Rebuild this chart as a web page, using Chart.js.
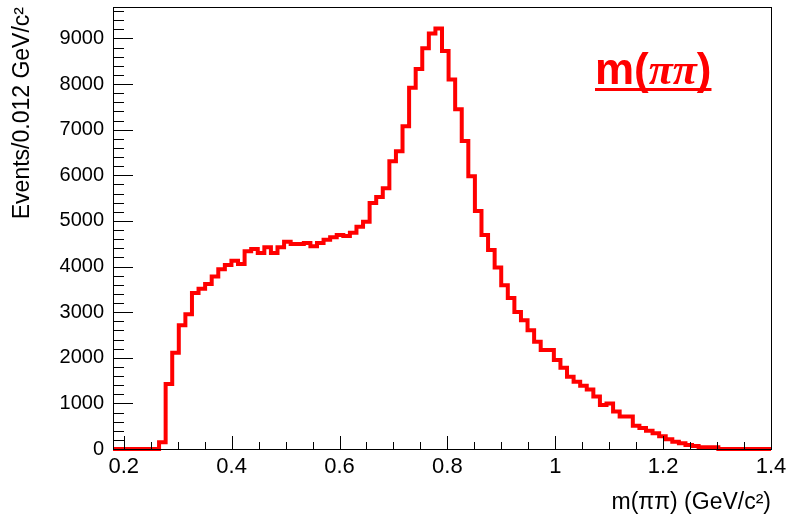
<!DOCTYPE html>
<html>
<head>
<meta charset="utf-8">
<script src="https://cdn.jsdelivr.net/npm/chart.js@4/dist/chart.umd.min.js"></script>
<style>
  html, body { margin: 0; padding: 0; background: #fff; }
  #wrap { width: 790px; height: 518px; position: relative; }
</style>
</head>
<body>
<div id="wrap"><canvas id="hist" width="790" height="518"></canvas></div>
<script>
// histogram binning: 100 bins from 0.18 to 1.4 GeV/c^2
const xMin = 0.18;
const xMax = 1.4;
const binWidth = 0.0122;

// events per bin
const binCounts = [
    0, 0, 0, 0, 0, 0, 0, 150, 1425, 2110,
    2715, 2955, 3420, 3515, 3620, 3780, 3940, 4035, 4125, 4055,
    4335, 4385, 4295, 4425, 4295, 4425, 4545, 4495, 4495, 4515,
    4445, 4515, 4585, 4640, 4690, 4670, 4740, 4870, 4980, 5395,
    5525, 5715, 6310, 6530, 7075, 7920, 8330, 8785, 9110, 9220,
    8725, 8100, 7450, 6750, 5980, 5220, 4690, 4365, 3980, 3590,
    3310, 3005, 2825, 2605, 2350, 2170, 2170, 1950, 1780, 1585,
    1475, 1385, 1305, 1150, 965, 1000, 820, 710, 710, 510,
    460, 400, 345, 280, 213, 160, 125, 88, 66, 37,
    37, 37, 0, 0, 0, 0, 0, 0, 0, 0
];

const xTicks = [0.2, 0.4, 0.6, 0.8, 1.0, 1.2, 1.4];
const xTickLabels = ['0.2', '0.4', '0.6', '0.8', '1', '1.2', '1.4'];
const yTicks = [0, 1000, 2000, 3000, 4000, 5000, 6000, 7000, 8000, 9000];
const yMax = 9690;

// step points at bin low edges, plus the upper edge of the last bin
const points = binCounts.map((c, i) => ({ x: xMin + i * binWidth, y: c }));
points.push({ x: xMax, y: binCounts[binCounts.length - 1] });

const sans = '"Liberation Sans", Arial, Helvetica, sans-serif';

// ROOT style frame + inward tick marks + the red label
const rootFrame = {
    id: 'rootFrame',
    afterDatasetsDraw(chart) {
        const { ctx, chartArea: a, scales: { x, y } } = chart;
        ctx.save();
        ctx.strokeStyle = '#000';
        ctx.lineWidth = 1;
        ctx.strokeRect(a.left + 0.5, a.top + 0.5, a.right - a.left, a.bottom - a.top);

        ctx.beginPath();
        for (let v = 0; v <= yMax; v += 200) {
            const py = Math.round(y.getPixelForValue(v)) + 0.5;
            const len = v % 1000 === 0 ? 20 : 11;
            ctx.moveTo(a.left, py);
            ctx.lineTo(a.left + len, py);
        }
        for (let k = 0; k <= 24; k++) {
            const v = 0.2 + k * 0.05;
            const px = Math.round(x.getPixelForValue(v)) + 0.5;
            const len = k % 4 === 0 ? 13 : 7;
            ctx.moveTo(px, a.bottom);
            ctx.lineTo(px, a.bottom - len);
        }
        ctx.stroke();

        // m(ππ) tag
        ctx.fillStyle = '#ff0000';
        ctx.textBaseline = 'alphabetic';
        const x0 = 595;
        let tx = x0;
        const ty = 84;
        ctx.font = 'bold 44px ' + sans;
        ctx.fillText('m(', tx, ty);
        tx += ctx.measureText('m(').width;
        ctx.font = 'italic bold 44px "Liberation Serif", "Times New Roman", serif';
        ctx.fillText('ππ', tx, ty);
        tx += ctx.measureText('ππ').width;
        ctx.font = 'bold 44px ' + sans;
        ctx.fillText(')', tx, ty);
        tx += ctx.measureText(')').width;
        ctx.fillRect(x0, 88, tx - x0, 3);
        ctx.restore();
    }
};

const config = {
    type: 'line',
    data: {
        datasets: [{
            data: points,
            stepped: 'before',
            borderColor: '#ff0000',
            borderWidth: 4,
            pointRadius: 0,
            fill: false,
            clip: false
        }]
    },
    options: {
        responsive: false,
        animation: false,
        events: [],
        layout: { padding: { top: 7, right: 19, left: 0, bottom: 0 } },
        plugins: {
            legend: { display: false },
            tooltip: { enabled: false }
        },
        scales: {
            x: {
                type: 'linear',
                min: xMin,
                max: xMax,
                afterBuildTicks: s => { s.ticks = xTicks.map(v => ({ value: v })); },
                afterFit: s => { s.height = 69; s.paddingLeft = 0; s.paddingRight = 0; },
                grid: { display: false, drawTicks: false },
                border: { display: false },
                ticks: {
                    padding: 5,
                    maxRotation: 0,
                    autoSkip: false,
                    color: '#000',
                    font: { family: sans, size: 22 },
                    callback: (v) => xTickLabels[xTicks.findIndex(t => Math.abs(t - v) < 1e-6)]
                },
                title: {
                    display: true,
                    text: 'm(ππ) (GeV/c²)',
                    align: 'end',
                    color: '#000',
                    font: { family: sans, size: 23 },
                    padding: { top: 0, bottom: 2 }
                }
            },
            y: {
                min: 0,
                max: yMax,
                afterBuildTicks: s => { s.ticks = yTicks.map(v => ({ value: v })); },
                afterFit: s => { s.width = 113; s.paddingTop = 0; s.paddingBottom = 0; },
                grid: { display: false, drawTicks: false },
                border: { display: false },
                ticks: {
                    padding: 9,
                    autoSkip: false,
                    color: '#000',
                    font: { family: sans, size: 20 },
                    callback: v => String(v)
                },
                title: {
                    display: true,
                    text: 'Events/0.012 GeV/c²',
                    align: 'end',
                    color: '#000',
                    font: { family: sans, size: 23 },
                    padding: { top: 9, bottom: 0 }
                }
            }
        }
    },
    plugins: [rootFrame]
};

const histChart = new Chart(document.getElementById('hist'), config);
</script>
</body>
</html>
